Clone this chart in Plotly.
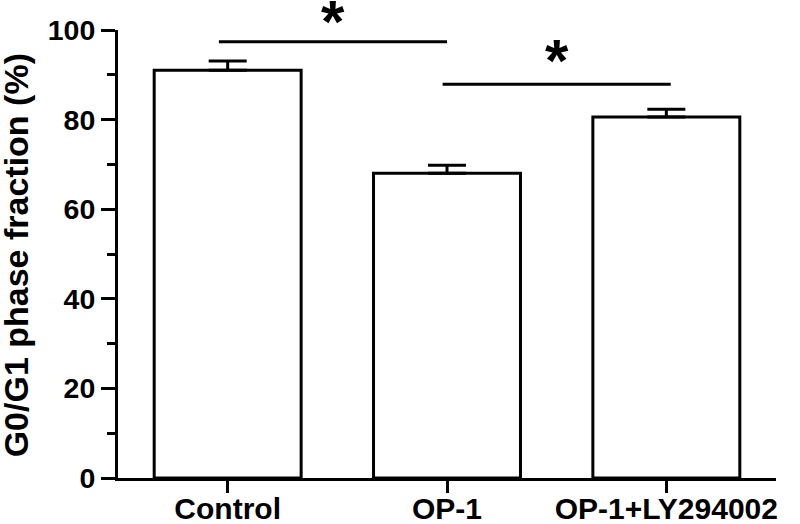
import plotly.graph_objects as go

# Data
groups = ["Control", "OP-1", "OP-1+LY294002"]
fraction = [91.0, 68.0, 80.6]
sem = [2.1, 1.8, 1.7]

# Significance brackets: (x start, x end, height)
sig_x0 = [-0.04, 0.98]
sig_x1 = [1.0, 2.02]
sig_y = [97.4, 87.9]
star_y = [101.8, 93.3]

font_family = "Liberation Sans, Arial, sans-serif"
y_max = 100

fig = go.Figure()

fig.add_trace(go.Bar(
    x=[0, 1, 2],
    y=fraction,
    width=0.67,
    marker=dict(color="white", line=dict(color="black", width=3)),
    error_y=dict(type="data", array=sem, arrayminus=[0, 0, 0], symmetric=False,
                 color="black", thickness=3, width=19),
    showlegend=False,
))

# significance lines + stars
for a, b, h, s in zip(sig_x0, sig_x1, sig_y, star_y):
    fig.add_shape(type="line", xref="x", yref="y", x0=a, x1=b, y0=h, y1=h,
                  line=dict(color="black", width=3))
    # stars can sit above the axis range, so place them in paper coords
    fig.add_annotation(x=(a + b) / 2, y=s / y_max, xref="x", yref="paper", text="<b>*</b>",
                       showarrow=False, font=dict(size=60, color="black", family=font_family),
                       yanchor="middle")

# y axis title as annotation
fig.add_annotation(text="<b>G0/G1 phase fraction (%)</b>", xref="paper", yref="paper",
                   x=-0.155, y=0.497, xanchor="center", yanchor="middle",
                   textangle=-90, showarrow=False,
                   font=dict(size=34, color="black", family=font_family))

fig.update_xaxes(range=[-0.5, 2.5], tickvals=[0, 1, 2], ticktext=["<b>%s</b>" % g for g in groups],
                 showline=True, linecolor="black", linewidth=3, ticks="outside",
                 ticklen=12, tickwidth=3, tickcolor="black", showgrid=False, zeroline=False,
                 automargin=False, ticklabelstandoff=-10,
                 tickfont=dict(size=30, color="black", family=font_family))

fig.update_yaxes(range=[0, y_max], tickvals=[0, 20, 40, 60, 80, 100],
                 ticktext=["<b>%d</b>" % v for v in [0, 20, 40, 60, 80, 100]],
                 showline=True, linecolor="black", linewidth=3, ticks="outside",
                 ticklen=14, tickwidth=3, tickcolor="black", showgrid=False, zeroline=False,
                 automargin=False,
                 minor=dict(tickvals=[10, 30, 50, 70, 90], ticks="outside", ticklen=8,
                            tickwidth=3, tickcolor="black"),
                 tickfont=dict(size=28.5, color="black", family=font_family))

fig.update_layout(
    width=800, height=524,
    margin=dict(l=118, r=24, t=30, b=46),
    plot_bgcolor="white", paper_bgcolor="white",
)

# drop the default page margin so the figure fills the window exactly
fig.write_html("out.html", config={"displayModeBar": False},
               post_script="document.body.style.margin='0';")
